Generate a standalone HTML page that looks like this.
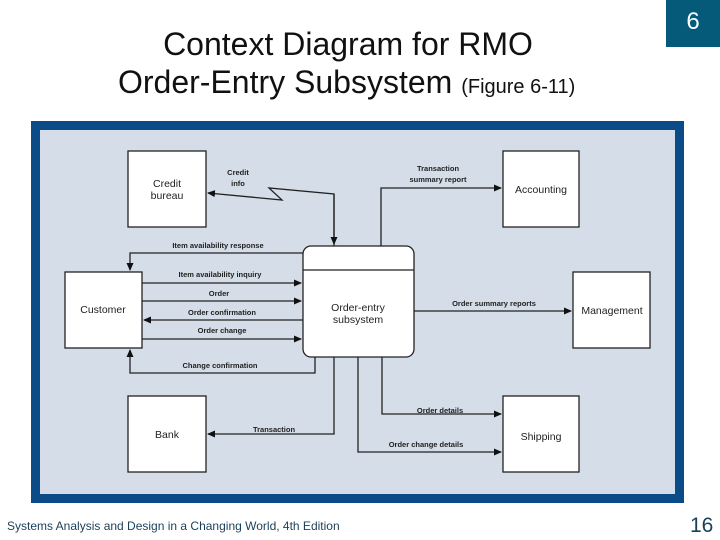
<!DOCTYPE html>
<html><head><meta charset="utf-8"><style>
body{margin:0;width:720px;height:540px;background:#fff;position:relative;overflow:hidden;font-family:"Liberation Sans",sans-serif}
.t{position:absolute;left:0;width:720px;text-align:center;color:#111;font-size:32px}
</style></head><body>
<div style="position:absolute;left:666px;top:0;width:54px;height:47px;background:#055a7a;color:#fff;font-size:24px;text-align:center;line-height:44px">6</div>
<div class="t" style="top:26px;left:-12px">Context Diagram for RMO</div>
<div style="position:absolute;left:118px;top:64px;font-size:32px;color:#111;white-space:nowrap">Order-Entry Subsystem <span style="font-size:20px">(Figure 6-11)</span></div>
<svg style="position:absolute;left:0;top:0" width="720" height="540" font-family="Liberation Sans, sans-serif">
<defs><marker id="a" markerWidth="8" markerHeight="8" refX="7" refY="4" orient="auto" markerUnits="userSpaceOnUse"><path d="M0,0.5 L8,4 L0,7.5z" fill="#111"/></marker></defs>
<rect x="31" y="121" width="653" height="382" fill="#0b4c88"/>
<rect x="40" y="130" width="635" height="364" fill="#d5dde8"/>
<g fill="#fff" stroke="#222" stroke-width="1.3">
<rect x="128" y="151" width="78" height="76"/>
<rect x="65" y="272" width="77" height="76"/>
<rect x="503" y="151" width="76" height="76"/>
<rect x="573" y="272" width="77" height="76"/>
<rect x="128" y="396" width="78" height="76"/>
<rect x="503" y="396" width="76" height="76"/>
<rect x="303" y="246" width="111" height="111" rx="8"/>
<line x1="303" y1="270" x2="414" y2="270"/>
</g>
<g fill="none" stroke="#222" stroke-width="1.3" marker-end="url(#a)">
<polyline points="334,246 334,194 269,188 282,200 208,193" marker-end="url(#a)"/>
<polyline points="334,194 334,244"/>
<polyline points="303,253 130,253 130,270"/>
<polyline points="142,283 301,283"/>
<polyline points="142,301 301,301"/>
<polyline points="303,320 144,320"/>
<polyline points="142,339 301,339"/>
<polyline points="315,357 315,373 130,373 130,350"/>
<polyline points="381,246 381,188 501,188"/>
<polyline points="414,311 571,311"/>
<polyline points="334,357 334,434 208,434"/>
<polyline points="382,357 382,414 501,414"/>
<polyline points="358,357 358,452 501,452"/>
</g>
<g font-size="7.5" font-weight="bold" fill="#222" text-anchor="middle">
<text x="238" y="175">Credit</text><text x="238" y="186">info</text>
<text x="218" y="248">Item availability response</text>
<text x="220" y="277">Item availability inquiry</text>
<text x="219" y="296">Order</text>
<text x="222" y="315">Order confirmation</text>
<text x="222" y="333">Order change</text>
<text x="220" y="368">Change confirmation</text>
<text x="438" y="171">Transaction</text><text x="438" y="182">summary report</text>
<text x="494" y="306">Order summary reports</text>
<text x="274" y="432">Transaction</text>
<text x="440" y="413">Order details</text>
<text x="426" y="447">Order change details</text>
</g>
<g font-size="10.5" fill="#222" text-anchor="middle">
<text x="167" y="187">Credit</text><text x="167" y="199">bureau</text>
<text x="103" y="313">Customer</text>
<text x="358" y="311">Order-entry</text><text x="358" y="323">subsystem</text>
<text x="541" y="193">Accounting</text>
<text x="612" y="314">Management</text>
<text x="167" y="438">Bank</text>
<text x="541" y="440">Shipping</text>
</g>
</svg>
<div style="position:absolute;left:7px;top:519px;font-size:12px;color:#1a3f5a">Systems Analysis and Design in a Changing World, 4th Edition</div>
<div style="position:absolute;left:690px;top:514px;font-size:21px;color:#1a3f5a">16</div>
</body></html>
